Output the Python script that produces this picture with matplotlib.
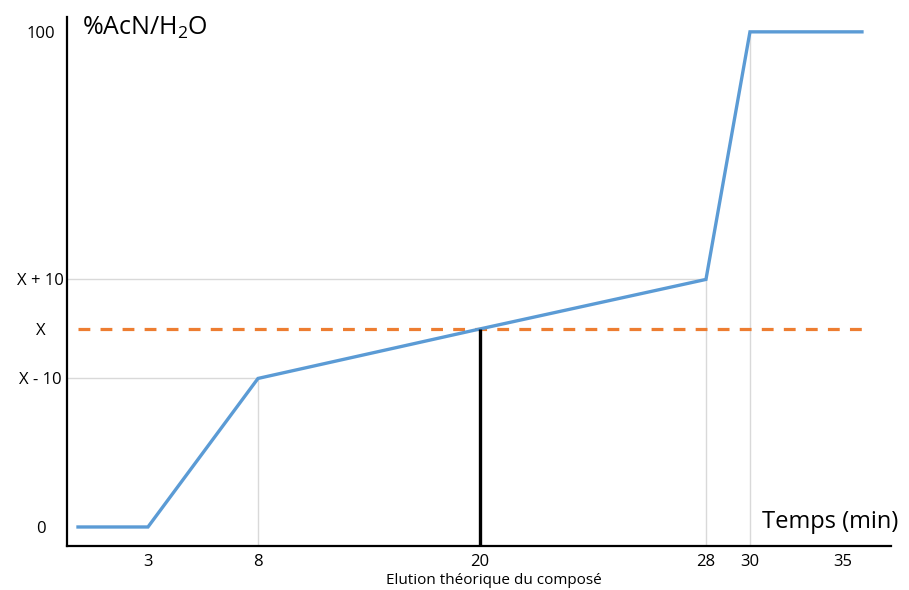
import matplotlib
matplotlib.use("Agg")
import matplotlib.pyplot as plt

plt.rcParams['font.family'] = ['Open Sans', 'DejaVu Sans']
plt.rcParams['mathtext.default'] = 'regular'

# Gradient profile (x = position on the axis, labelled with times)
grad_x = [-0.18, 3, 8, 18.09, 28.36, 30.36, 35.45]
grad_y = [0, 0, 30, 40, 50, 100, 100]

# X-axis ticks (uneven spacing in the original drawing)
xtick_pos = [3, 8, 18.09, 28.36, 30.36, 34.59]
xtick_labels = ['3', '8', '20', '28', '30', '35']

# Y-axis ticks
ytick_vals = [0, 30, 40, 50, 100]
ytick_labels = ['0', 'X - 10', 'X', 'X + 10', '100']

# Elution level X
x_level = 40
elution_pos = 18.09

# Light drop lines
vdrop_x = [8, 28.36, 30.36]
vdrop_top = [30, 50, 100]
hdrop_y = [30, 50]
hdrop_right = [8, 28.36]

W, H = 909, 590
fig = plt.figure(figsize=(W / 100, H / 100), dpi=100)
ax = fig.add_axes([67 / W, 44 / H, (891 - 67) / W, (546 - 17) / H])
xmin, xmax = -0.68, 36.77
ymin, ymax = -3.84, 103.0
ax.set_xlim(xmin, xmax)
ax.set_ylim(ymin, ymax)

grid_c = '#D9D9D9'
ax.vlines(vdrop_x, ymin, vdrop_top, color=grid_c, lw=1.0, zorder=1)
ax.hlines(hdrop_y, xmin, hdrop_right, color=grid_c, lw=1.0, zorder=1)

ax.plot([grad_x[0], grad_x[-1]], [x_level, x_level], color='#ED7D31', lw=2.3,
        dashes=(3.7, 3.2), dash_capstyle='butt', zorder=2)
ax.plot(grad_x, grad_y, color='#5B9BD5', lw=2.4, solid_joinstyle='miter', zorder=3)
ax.vlines([elution_pos], ymin, x_level, color='black', lw=2.4, zorder=4)

for s in ['top', 'right']:
    ax.spines[s].set_visible(False)
for s in ['left', 'bottom']:
    ax.spines[s].set_linewidth(1.6)
    ax.spines[s].set_color('black')

ax.set_xticks(xtick_pos)
ax.set_xticklabels(xtick_labels, fontsize=12)
ax.tick_params(axis='x', length=0, pad=6)
ax.set_yticks(ytick_vals)
ax.set_yticklabels(ytick_labels, fontsize=12, ha='center')
ax.tick_params(axis='y', length=0, pad=19)

fig.text(82 / W, 1 - 28 / H, '%AcN/H$_2$O', fontsize=18, ha='left', va='center')
fig.text(762 / W, 1 - 522 / H, 'Temps (min)', fontsize=17, ha='left', va='center')
fig.text(494 / W, 1 - 580 / H, 'Elution théorique du composé', fontsize=11,
         ha='center', va='center')

fig.savefig('out.png', dpi=100)
